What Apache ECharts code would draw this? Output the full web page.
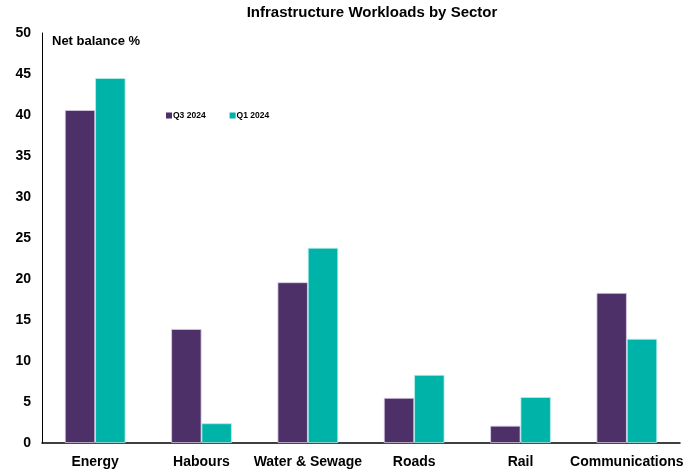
<!DOCTYPE html>
<html>
<head>
<meta charset="utf-8">
<script src="https://cdn.jsdelivr.net/npm/echarts@6/dist/echarts.min.js"></script>
<style>
  html, body { margin: 0; padding: 0; background: #fff; }
  #chart { width: 695px; height: 475px; }
</style>
</head>
<body>
<div id="chart"></div>
<script>
const categories = ['Energy', 'Habours', 'Water & Sewage', 'Roads', 'Rail', 'Communications'];
const q3_2024 = [40.6, 13.9, 19.6, 5.5, 2.1, 18.3];
const q1_2024 = [44.5, 2.4, 23.8, 8.3, 5.6, 12.7];
const seriesNames = ['Q3 2024', 'Q1 2024'];
const yTicks = { min: 0, max: 50, interval: 5 };

const FONT = '"Liberation Sans", Arial, sans-serif';
const chart = echarts.init(document.getElementById('chart'), null, { renderer: 'canvas' });

chart.setOption({
  animation: false,
  backgroundColor: '#ffffff',
  title: {
    text: 'Infrastructure Workloads by Sector',
    left: 367,
    top: 0,
    textAlign: 'center',
    textStyle: { fontFamily: FONT, fontWeight: 'bold', fontSize: 15, color: '#000' }
  },
  legend: {
    data: seriesNames,
    left: 166,
    top: 111,
    padding: 0,
    itemWidth: 6,
    itemHeight: 6,
    itemGap: 24,
    icon: 'rect',
    itemStyle: { borderWidth: 0 },
    textStyle: { fontFamily: FONT, fontWeight: 'bold', fontSize: 8.5, color: '#000', padding: [0, 0, 0, -4] }
  },
  graphic: [{
    type: 'text',
    left: 52,
    top: 35,
    style: { text: 'Net balance %', fontFamily: FONT, fontWeight: 'bold', fontSize: 13, fill: '#000' }
  }],
  grid: { left: 42, right: 15, top: 33, bottom: 32 },
  xAxis: {
    type: 'category',
    data: categories,
    axisLine: { lineStyle: { color: '#000', width: 1.5 } },
    axisTick: { show: false },
    axisLabel: { interval: 0, fontFamily: FONT, fontWeight: 'bold', fontSize: 14, color: '#000', margin: 12 }
  },
  yAxis: {
    type: 'value',
    min: yTicks.min,
    max: yTicks.max,
    interval: yTicks.interval,
    axisLine: { show: true, lineStyle: { color: '#000', width: 1 } },
    axisTick: { show: false },
    splitLine: { show: false },
    axisLabel: { fontFamily: FONT, fontWeight: 'bold', fontSize: 14, color: '#000', margin: 11 }
  },
  series: [
    {
      name: seriesNames[0],
      type: 'bar',
      data: q3_2024,
      barGap: '0%',
      barCategoryGap: '43%',
      itemStyle: { color: '#4d3068', borderColor: '#d9cfe6', borderWidth: 0.8 }
    },
    {
      name: seriesNames[1],
      type: 'bar',
      data: q1_2024,
      itemStyle: { color: '#00b3a8', borderColor: '#b8ece8', borderWidth: 0.8 }
    }
  ]
});
</script>
</body>
</html>
